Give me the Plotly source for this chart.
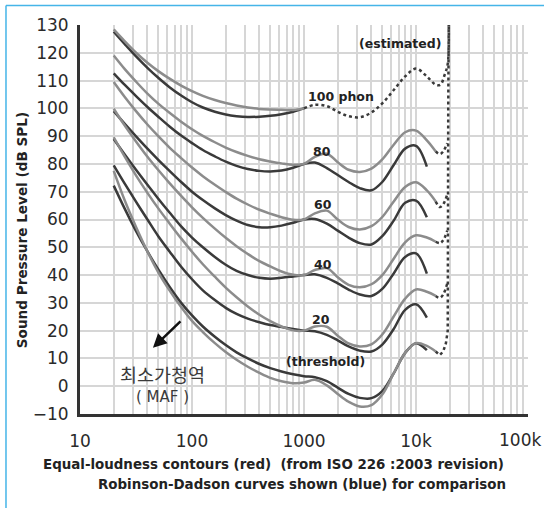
import math
import plotly.graph_objects as go

# ---------------- data ----------------
freq = [20, 25, 31.5, 40, 50, 63, 80, 100, 125, 160, 200, 250, 315, 400, 500, 630, 800, 1000,
        1250, 1600, 2000, 2500, 3150, 4000, 5000, 6300, 8000, 10000, 12500]
freq_iso = freq + [15000]
freq_low = freq[:18]  # 20 Hz .. 1 kHz

# ISO 226:2003 contours (red in original, light grey here)
iso_100 = [128.4, 124.2, 120.1, 116.4, 113.4, 110.7, 108.2, 106.2, 104.5, 103.0, 101.9, 101.0,
           100.3, 99.8, 99.6, 99.5, 99.4, 100.0]
iso_80 = [119.0, 114.2, 109.7, 105.3, 101.7, 98.4, 95.2, 92.5, 90.1, 87.8, 85.9, 84.3, 82.9, 81.7,
          80.9, 80.2, 79.7, 80.0, 82.5, 83.7, 80.6, 77.9, 77.1, 78.3, 81.6, 86.8, 91.4, 92.0, 88.5, 84.5]
iso_60 = [109.5, 104.2, 99.1, 94.2, 90.0, 85.9, 82.1, 78.7, 75.6, 72.5, 69.9, 67.5, 65.4, 63.5,
          62.1, 60.8, 59.9, 60.0, 62.2, 63.2, 60.0, 57.3, 56.4, 57.6, 60.9, 66.4, 71.7, 73.4, 70.5, 66.5]
iso_40 = [99.85, 93.9, 88.2, 82.6, 77.8, 73.1, 68.5, 64.4, 60.6, 56.7, 53.4, 50.4, 47.6, 45.0,
          43.1, 41.3, 40.1, 40.0, 41.8, 42.5, 39.2, 36.5, 35.6, 36.7, 40.0, 45.8, 51.8, 54.3, 53.5, 52.0]
iso_20 = [89.6, 82.7, 76.0, 69.6, 64.0, 58.6, 53.2, 48.4, 43.9, 39.4, 35.5, 32.0, 28.7, 25.7,
          23.4, 21.5, 20.1, 20.0, 21.5, 21.4, 18.2, 15.4, 14.3, 15.1, 18.6, 25.0, 31.5, 34.8, 34.0, 32.5]
iso_thr = [77.5, 67.0, 57.5, 48.5, 41.0, 34.5, 28.5, 23.5, 19.5, 15.5, 12.3, 9.5, 7.0, 4.8, 3.0,
           1.8, 1.1, 1.3, 2.3, 0.3, -2.8, -5.6, -7.3, -6.8, -3.0, 4.5, 12.0, 15.5, 14.5, 12.5]

# Robinson-Dadson contours (blue in original, dark grey here)
rd_100 = [127.6, 123.2, 118.8, 114.6, 111.0, 107.6, 104.6, 102.2, 100.3, 98.8, 97.8, 97.2, 96.9,
          97.0, 97.3, 97.9, 98.8, 100.0]
rd_80 = [112.6, 108.5, 104.5, 100.5, 97.0, 93.5, 90.2, 87.5, 85.0, 82.7, 80.8, 79.3, 78.2, 77.5,
         77.3, 77.6, 78.6, 80.0, 80.5, 78.5, 76.0, 73.5, 71.3, 70.5, 73.5, 79.5, 85.5, 86.5, 79.0]
rd_60 = [99.0, 94.5, 90.0, 85.5, 81.5, 77.5, 73.5, 70.0, 67.0, 64.0, 61.6, 59.6, 58.0, 57.2, 57.2,
         57.8, 58.8, 60.0, 60.2, 58.5, 56.0, 53.5, 51.5, 51.0, 54.0, 59.5, 66.0, 66.8, 60.8]
rd_40 = [89.0, 83.5, 78.0, 72.5, 67.5, 62.5, 57.5, 53.5, 50.0, 46.5, 43.7, 41.5, 40.0, 39.0, 38.7,
         39.0, 39.5, 40.0, 40.3, 39.0, 37.0, 34.8, 33.0, 32.5, 35.0, 40.5, 46.5, 47.8, 40.5]
rd_20 = [79.5, 73.0, 66.5, 60.0, 54.0, 48.5, 43.0, 38.5, 34.5, 31.0, 28.2, 26.0, 24.3, 23.0, 22.0,
         21.3, 20.6, 20.0, 19.8, 18.5, 16.5, 14.3, 12.8, 12.5, 15.0, 20.5, 27.5, 29.5, 24.7]
rd_thr = [72.2, 64.0, 56.0, 48.5, 42.0, 35.8, 30.0, 25.5, 21.5, 17.8, 14.8, 12.2, 10.0, 8.0, 6.5,
          5.3, 4.3, 3.6, 3.2, 1.8, -0.5, -2.8, -4.2, -4.3, -1.8, 4.5, 12.0, 15.5, 13.0]

# estimated (dotted) extensions
est_100_f = [1000, 1250, 1600, 2000, 2500, 3150, 4000, 5000, 6300, 8000, 10000, 12500, 15000,
             16500, 18000, 19200, 19600]
est_100_v = [100.0, 101.3, 100.8, 98.8, 97.2, 96.8, 98.5, 101.8, 106.5, 111.5, 114.3, 111.5,
             108.5, 108.5, 112.0, 116.0, 130.0]
ext_f = [15000, 16300, 17500, 19000]
ext_80 = [84.5, 83.5, 84.5, 87.5]
ext_60 = [66.5, 64.5, 65.5, 69.0]
ext_40 = [52.0, 51.5, 52.5, 56.0]
ext_20 = [32.5, 31.8, 33.0, 37.0]
ext_thr_f = [15000, 16300, 17500, 18500, 19200, 19200, 19400, 19600]
ext_thr_v = [12.5, 11.2, 12.5, 15.5, 20.0, 60.0, 100.0, 130.0]

x_ticks = [10, 100, 1000, 10000, 100000]
x_ticktext = ["10", "100", "1000", "10k", "100k"]
y_ticks = list(range(-10, 131, 10))

DARK = "#3a3a3a"
LIGHT = "#8c8c8c"

fig = go.Figure()


def add_curve(xs, ys, color, dash="solid", width=2.5):
    fig.add_trace(go.Scatter(x=xs, y=ys, mode="lines",
                             line=dict(color=color, width=width, dash=dash,
                                       shape="spline", smoothing=1.0),
                             hoverinfo="skip", showlegend=False))


# Robinson-Dadson (dark)
add_curve(freq_low, rd_100, DARK)
for s in [rd_80, rd_60, rd_40, rd_20, rd_thr]:
    add_curve(freq, s, DARK)
# ISO (light)
add_curve(freq_low, iso_100, LIGHT)
for s in [iso_80, iso_60, iso_40, iso_20, iso_thr]:
    add_curve(freq_iso, s, LIGHT)
# dotted extensions
add_curve(est_100_f, est_100_v, DARK, dash="dot", width=2.5)
for s in [ext_80, ext_60, ext_40, ext_20]:
    add_curve(ext_f, s, DARK, dash="dot", width=2.5)
fig.add_trace(go.Scatter(x=ext_thr_f, y=ext_thr_v, mode="lines",
                         line=dict(color=DARK, width=2.5, dash="dot"),
                         hoverinfo="skip", showlegend=False))

# grid tick values (all 1..9 multiples); the last label is drawn separately so it fits
grid_vals = [d * 10 ** k for k in range(1, 5) for d in range(1, 10)] + [100000]
grid_text = [x_ticktext[x_ticks.index(v)] if (v in x_ticks and v != x_ticks[-1]) else ""
             for v in grid_vals]

tickfont = dict(family="DejaVu Sans", size=17, color="#2a2a2a")
fig.update_xaxes(type="log", range=[1, 5], tickvals=grid_vals, ticktext=grid_text,
                 showgrid=True, gridcolor="#d6d6d6", gridwidth=2,
                 showline=True, linecolor="#333333", linewidth=3,
                 ticks="", tickfont=tickfont, zeroline=False, ticklabelstandoff=10)
fig.update_yaxes(range=[-10, 130], tickvals=y_ticks,
                 showgrid=True, gridcolor="#d6d6d6", gridwidth=2,
                 showline=True, linecolor="#333333", linewidth=3,
                 ticks="", tickfont=tickfont, zeroline=False, ticklabelstandoff=5)

bold = dict(family="DejaVu Sans", size=13.4, color="#222222")
ann = []


def lab(f, v, text, size=12.5):
    ann.append(dict(x=math.log10(f), y=v, xref="x", yref="y", text="<b>%s</b>" % text,
                    showarrow=False, font=dict(family="DejaVu Sans", size=size, color="#222222"),
                    xanchor="center", yanchor="middle"))


lab(2140, 104.1, "100 phon")
lab(7195, 123.5, "(estimated)")
lab(1448, 84.3, "80")
lab(1478, 65.3, "60")
lab(1478, 43.7, "40")
lab(1419, 23.9, "20")
lab(1545, 8.8, "(threshold)")

# last x tick label, kept inside the page like in the reference
ann.append(dict(x=1, y=-0.0668, xref="paper", yref="paper", text=x_ticktext[-1],
                showarrow=False, font=tickfont, xanchor="right", yanchor="middle", xshift=15))

# MAF note
ann.append(dict(x=math.log10(54), y=4.5, xref="x", yref="y", text="최소가청역",
                showarrow=False, font=dict(family="Noto Sans CJK KR", size=18.5, color="#3a3a3a"),
                xanchor="center", yanchor="middle"))
ann.append(dict(x=math.log10(54), y=-3.9, xref="x", yref="y", text="( MAF )",
                showarrow=False, font=dict(family="DejaVu Sans", size=15, color="#3a3a3a"),
                xanchor="center", yanchor="middle"))
ann.append(dict(x=math.log10(44.8), y=13.8, xref="x", yref="y", text="", showarrow=True,
                ax=29, ay=-28, arrowhead=2, arrowsize=1.1, arrowwidth=2.5, arrowcolor="#111111"))

# axis titles
ann.append(dict(x=-0.129, y=0.473, xref="paper", yref="paper", textangle=-90,
                text="<b>Sound Pressure Level (dB SPL)</b>", showarrow=False,
                font=dict(family="DejaVu Sans", size=13.6, color="#222222"),
                xanchor="center", yanchor="middle"))
ann.append(dict(x=0.432, y=-0.131, xref="paper", yref="paper",
                text="<b>Equal-loudness contours (red)  (from ISO 226 :2003 revision)</b>",
                showarrow=False, font=bold, xanchor="center", yanchor="middle"))
ann.append(dict(x=0.4965, y=-0.1825, xref="paper", yref="paper",
                text="<b>Robinson-Dadson curves shown (blue) for comparison</b>",
                showarrow=False, font=bold, xanchor="center", yanchor="middle"))

frame = "#45b5e8"
shapes = [
    dict(type="line", xref="paper", yref="paper", x0=-0.1652, x1=1.04, y0=1.0501, y1=1.0501,
         line=dict(color=frame, width=1.5)),
    dict(type="line", xref="paper", yref="paper", x0=-0.1652, x1=-0.1652, y0=1.0501, y1=-0.25,
         line=dict(color=frame, width=1.5)),
]

fig.update_layout(width=544, height=508, autosize=False,
                  margin=dict(l=80, r=16, t=25, b=94),
                  paper_bgcolor="white", plot_bgcolor="white",
                  showlegend=False, annotations=ann, shapes=shapes)

fig.write_html("out.html", config={"displayModeBar": False},
               post_script="document.body.style.margin='0';")
